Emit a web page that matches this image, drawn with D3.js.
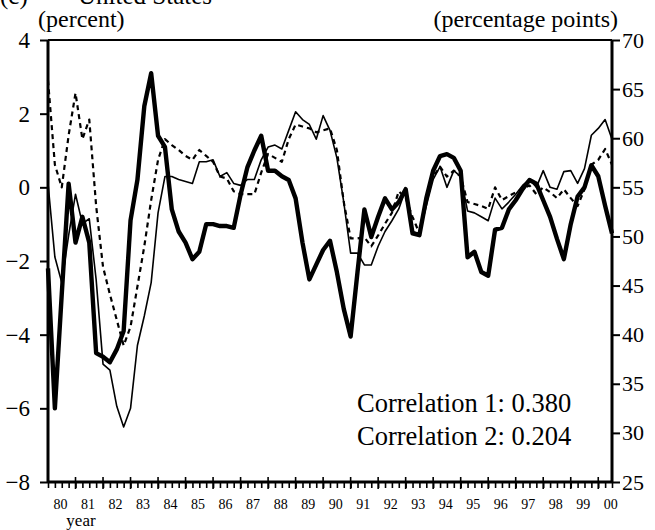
<!DOCTYPE html>
<html>
<head>
<meta charset="utf-8">
<script src="https://cdn.jsdelivr.net/npm/d3@7"></script>
<style>
  body { margin: 0; background: #fff; }
  svg { font-family: "Liberation Serif", "Times New Roman", serif; }
</style>
</head>
<body>
<svg id="chart" width="655" height="530"></svg>
<script>
// quarterly, 1980Q1 .. 2000Q3
const years = ['80','81','82','83','84','85','86','87','88','89','90','91','92','93','94','95','96','97','98','99','00'];
const leftTicks = [-8, -6, -4, -2, 0, 2, 4];
const rightTicks = [25, 30, 35, 40, 45, 50, 55, 60, 65, 70];

// heavy solid line, left axis (percent)
const seriesThick = [-2.2,-6.0,-2.9,0.1,-1.5,-0.8,-1.5,-4.5,-4.6,-4.75,-4.4,-3.9,-0.9,0.2,2.2,3.1,1.4,1.1,-0.6,-1.2,
  -1.5,-1.95,-1.75,-1.0,-1.0,-1.05,-1.05,-1.1,-0.2,0.55,1.0,1.4,0.45,0.45,0.3,0.2,-0.3,-1.5,-2.5,-2.1,
  -1.7,-1.45,-2.3,-3.3,-4.05,-2.3,-0.6,-1.35,-0.8,-0.3,-0.6,-0.4,-0.05,-1.25,-1.3,-0.3,0.45,0.85,0.9,0.8,
  0.45,-1.9,-1.75,-2.3,-2.4,-1.15,-1.1,-0.6,-0.35,-0.05,0.2,0.1,-0.35,-0.8,-1.4,-1.95,-1.0,-0.25,0.0,0.6,
  0.3,-0.5,-1.25];

// thin solid line, right axis (percentage points)
const seriesThin = [55.4,47.9,45.3,50.1,54.3,51.3,51.8,45.6,37.0,36.4,32.7,30.6,32.5,38.9,41.9,45.3,52.4,56.1,56.1,55.8,
  55.6,55.4,57.6,57.6,57.8,56.1,56.5,55.4,55.2,55.8,55.8,57.8,59.1,59.3,58.9,60.8,62.7,61.9,61.4,59.9,
  62.3,60.8,58.0,53.5,48.3,48.3,47.1,47.1,49.0,50.5,51.6,52.8,54.8,50.5,50.3,53.1,55.8,57.1,55.0,56.7,
  56.1,52.6,52.4,52.0,51.6,53.9,52.8,53.5,54.3,55.2,55.8,55.0,56.7,55.0,54.8,56.6,56.7,55.4,56.9,60.3,
  61.0,61.9,59.9];

// dashed line, right axis (percentage points)
const seriesDash = [65.9,57.3,55.0,60.3,64.6,59.9,61.9,53.1,46.9,44.1,41.5,38.9,40.8,44.9,49.0,53.7,57.8,59.9,59.3,58.8,
  58.2,57.8,58.8,58.2,57.6,56.1,55.9,54.6,54.3,54.3,54.3,56.5,58.4,58.0,57.6,59.9,61.4,61.2,61.0,60.6,
  60.8,61.0,58.8,53.5,49.8,49.8,49.9,49.0,50.1,51.3,52.4,54.6,53.9,52.0,50.3,53.9,56.1,57.1,56.1,56.7,
  56.1,53.5,53.3,53.1,52.8,55.0,53.7,54.1,54.5,54.8,55.2,54.3,55.0,54.5,53.9,54.8,53.9,53.1,54.8,57.3,
  57.8,58.9,57.3];

const corrLabels = ['Correlation 1: 0.380', 'Correlation 2: 0.204'];

const plotL = 48, plotR = 612, plotT = 40, plotB = 482;
const svg = d3.select('#chart');

const x = d3.scaleLinear().domain([0, seriesThick.length - 1]).range([plotL, plotR]);
const yL = d3.scaleLinear().domain([-8, 4]).range([plotB, plotT]);
const yR = d3.scaleLinear().domain([25, 70]).range([plotB, plotT]);

// title, cut by the top edge like in the source
svg.append('text').attr('x', 0).attr('y', 4).attr('font-size', 25).text('(c)');
svg.append('text').attr('x', 78).attr('y', 4).attr('font-size', 25).text('United States');

svg.append('text').attr('x', 38).attr('y', 27).attr('font-size', 24).text('(percent)');
svg.append('text').attr('x', 618).attr('y', 27).attr('font-size', 24)
  .attr('text-anchor', 'end').text('(percentage points)');

// lines
const lineThick = d3.line().x((d, i) => x(i)).y(d => yL(d));
const lineR = d3.line().x((d, i) => x(i)).y(d => yR(d));

svg.append('path').datum(seriesDash).attr('d', lineR)
  .attr('fill', 'none').attr('stroke', '#000').attr('stroke-width', 2.2)
  .attr('stroke-dasharray', '5,4').attr('stroke-linejoin', 'round');

svg.append('path').datum(seriesThin).attr('d', lineR)
  .attr('fill', 'none').attr('stroke', '#000').attr('stroke-width', 1.6)
  .attr('stroke-linejoin', 'round');

svg.append('path').datum(seriesThick).attr('d', lineThick)
  .attr('fill', 'none').attr('stroke', '#000').attr('stroke-width', 4.4)
  .attr('stroke-linejoin', 'round');

// frame top
svg.append('line').attr('x1', plotL).attr('x2', plotR).attr('y1', plotT).attr('y2', plotT)
  .attr('stroke', '#000').attr('stroke-width', 2);

// left axis
const gL = svg.append('g').attr('transform', `translate(${plotL},0)`)
  .call(d3.axisLeft(yL).tickValues(leftTicks).tickSize(8).tickPadding(10).tickFormat(d3.format('d')));
gL.select('.domain').attr('stroke-width', 3).attr('d', `M0,${plotT}V${plotB}`);
gL.selectAll('.tick line').attr('stroke-width', 2);
gL.selectAll('.tick text').attr('font-size', 23).attr('font-family', 'Liberation Serif').attr('fill', '#000');

// right axis
const gR = svg.append('g').attr('transform', `translate(${plotR},0)`)
  .call(d3.axisRight(yR).tickValues(rightTicks).tickSize(8).tickPadding(2));
gR.select('.domain').attr('stroke-width', 3).attr('d', `M0,${plotT}V${plotB}`);
gR.selectAll('.tick line').attr('stroke-width', 2);
gR.selectAll('.tick text').attr('font-size', 22).attr('font-family', 'Liberation Serif').attr('fill', '#000');

// bottom axis: quarterly ticks, taller ticks at each year start
const quarters = d3.range(0, seriesThick.length);
const gB = svg.append('g').attr('transform', `translate(0,${plotB})`)
  .call(d3.axisBottom(x).tickValues(quarters).tickSize(6).tickFormat(''));
gB.select('.domain').attr('stroke-width', 3).attr('d', `M${plotL},0H${plotR}`);
gB.selectAll('.tick line').attr('stroke-width', 1.6);

svg.append('g').selectAll('line')
  .data(quarters.filter(i => i > 0 && i % 4 === 0))
  .join('line')
  .attr('x1', d => x(d)).attr('x2', d => x(d))
  .attr('y1', plotB - 5).attr('y2', plotB + 7)
  .attr('stroke', '#000').attr('stroke-width', 1.6);

const gY = svg.append('g').attr('transform', `translate(0,${plotB})`)
  .call(d3.axisBottom(x).tickValues(years.map((y, k) => 4 * k + 1.75)).tickSize(0).tickPadding(17)
    .tickFormat((d, k) => years[k]));
gY.select('.domain').remove();
gY.selectAll('.tick text').attr('font-size', 14).attr('font-family', 'Liberation Serif').attr('fill', '#000');

svg.append('text').attr('x', 81).attr('y', 526).attr('font-size', 17)
  .attr('text-anchor', 'middle').text('year');

// correlations
svg.selectAll('.corr').data(corrLabels).join('text')
  .attr('class', 'corr')
  .attr('x', 357).attr('y', (d, i) => 412 + i * 33)
  .attr('font-size', 26.5).text(d => d);
</script>
</body>
</html>
